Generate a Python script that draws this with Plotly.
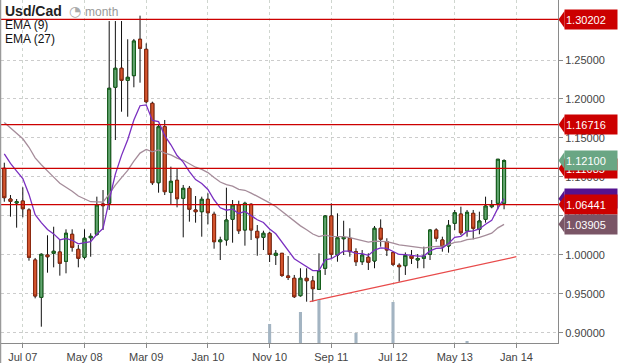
import plotly.graph_objects as go
import pandas as pd

# ---------------- data (monthly USD/CAD candles) ----------------
opens = [1.1110, 1.0716, 1.0665, 1.0690, 1.0575, 0.9933, 0.9454, 0.9997, 1.0019, 1.0036,
         0.9916, 1.0263, 1.0070, 0.9968, 1.0219, 1.0263, 1.0652, 1.0661, 1.2150, 1.2394,
         1.2239, 1.2299, 1.2766, 1.2637, 1.1944, 1.0925, 1.1644, 1.0802, 1.0956, 1.0725,
         1.0853, 1.0575, 1.0553, 1.0712, 1.0520, 1.0168, 1.0190, 1.0455, 1.0639, 1.0318,
         1.0648, 1.0301, 1.0224, 1.0276, 0.9993, 1.0019, 0.9728, 0.9698, 0.9475, 0.9698,
         0.9664, 0.9557, 0.9827, 1.0498, 0.9997, 1.0206, 1.0212, 1.0040, 0.9911, 0.9968,
         0.9920, 1.0340, 1.0168, 1.0027, 0.9865, 0.9860, 0.9984, 0.9933, 0.9955, 1.0006,
         1.0318, 1.0190, 1.0113, 1.0404, 1.0523, 1.0305, 1.0532, 1.0327, 1.0455, 1.0617,
         1.0661, 1.0661]
highs = [1.1182, 1.0767, 1.0716, 1.0866, 1.0597, 0.9959, 1.0019, 1.0250, 1.0360, 1.0190,
         1.0327, 1.0327, 1.0126, 1.0327, 1.0276, 1.0746, 1.0831, 1.3000, 1.3000, 1.3000,
         1.2766, 1.2770, 1.3069, 1.2714, 1.1965, 1.1666, 1.1730, 1.1131, 1.1110, 1.0896,
         1.0883, 1.0754, 1.0746, 1.0789, 1.0553, 1.0232, 1.0861, 1.0703, 1.0694, 1.0681,
         1.0661, 1.0382, 1.0309, 1.0296, 1.0061, 1.0019, 0.9984, 0.9741, 0.9827, 0.9827,
         0.9728, 1.0019, 1.0510, 1.0661, 1.0532, 1.0437, 1.0340, 1.0083, 1.0061, 1.0019,
         1.0369, 1.0455, 1.0212, 1.0040, 0.9891, 1.0030, 1.0061, 1.0010, 1.0104, 1.0327,
         1.0340, 1.0232, 1.0446, 1.0575, 1.0617, 1.0575, 1.0575, 1.0553, 1.0746, 1.0703,
         1.1226, 1.1226]
lows = [1.0681, 1.0489, 1.0348, 1.0481, 0.9924, 0.9441, 0.9077, 0.9770, 0.9839, 0.9732,
        0.9762, 1.0040, 0.9839, 0.9942, 0.9975, 1.0241, 1.0318, 1.0575, 1.1473, 1.1836,
        1.1772, 1.2150, 1.2209, 1.1944, 1.0896, 1.0797, 1.0767, 1.0652, 1.0609, 1.0224,
        1.0425, 1.0412, 1.0232, 1.0391, 1.0078, 0.9933, 1.0117, 1.0155, 1.0267, 1.0117,
        1.0190, 0.9988, 1.0061, 0.9907, 0.9869, 0.9715, 0.9676, 0.9445, 0.9462, 0.9398,
        0.9398, 0.9548, 0.9741, 0.9959, 0.9911, 0.9997, 0.9975, 0.9856, 0.9869, 0.9805,
        0.9827, 1.0104, 0.9984, 0.9856, 0.9655, 0.9741, 0.9882, 0.9827, 0.9827, 0.9933,
        1.0168, 1.0040, 1.0027, 1.0318, 1.0254, 1.0232, 1.0199, 1.0263, 1.0412, 1.0597,
        1.0584, 1.0584]
closes = [1.0733, 1.0686, 1.0681, 1.0591, 0.9968, 0.9471, 1.0006, 0.9975, 1.0045, 0.9891,
          1.0276, 1.0096, 0.9955, 1.0212, 1.0237, 1.0639, 1.0630, 1.2137, 1.2394, 1.2239,
          1.2278, 1.2744, 1.2650, 1.1965, 1.0925, 1.1644, 1.0810, 1.0943, 1.0720, 1.0853,
          1.0584, 1.0553, 1.0712, 1.0540, 1.0168, 1.0190, 1.0446, 1.0639, 1.0309, 1.0661,
          1.0318, 1.0219, 1.0276, 1.0004, 1.0019, 0.9734, 0.9708, 0.9462, 0.9698, 0.9667,
          0.9565, 0.9796, 1.0498, 1.0006, 1.0219, 1.0224, 1.0040, 0.9911, 0.9997, 0.9904,
          1.0340, 1.0199, 1.0061, 0.9878, 0.9847, 0.9991, 0.9952, 0.9952, 0.9984, 1.0318,
          1.0212, 1.0104, 1.0378, 1.0540, 1.0283, 1.0545, 1.0340, 1.0434, 1.0626, 1.0639,
          1.1226, 1.1210]
ema9 = [1.1294, 1.1172, 1.1074, 1.0978, 1.0775, 1.0514, 1.0412, 1.0325, 1.0268, 1.0192,
        1.0209, 1.0186, 1.0140, 1.0154, 1.0170, 1.0264, 1.0337, 1.0697, 1.1036, 1.1276,
        1.1476, 1.1730, 1.1913, 1.1924, 1.1725, 1.1709, 1.1530, 1.1412, 1.1274, 1.1190,
        1.1068, 1.0965, 1.0914, 1.0839, 1.0706, 1.0603, 1.0572, 1.0585, 1.0530, 1.0556,
        1.0508, 1.0450, 1.0414, 1.0332, 1.0269, 1.0163, 1.0072, 0.9950, 0.9898, 0.9852,
        0.9796, 0.9796, 0.9936, 0.9950, 1.0004, 1.0047, 1.0046, 1.0019, 1.0015, 0.9992,
        1.0061, 1.0088, 1.0083, 1.0042, 1.0004, 1.0001, 0.9991, 0.9983, 0.9983, 1.0050,
        1.0082, 1.0087, 1.0145, 1.0224, 1.0237, 1.0299, 1.0307, 1.0332, 1.0391, 1.0441,
        1.0598, 1.0720]
ema27 = [1.1698, 1.1626, 1.1558, 1.1489, 1.1380, 1.1244, 1.1155, 1.1070, 1.0997, 1.0917,
         1.0871, 1.0816, 1.0754, 1.0716, 1.0681, 1.0679, 1.0675, 1.0779, 1.0894, 1.0991,
         1.1083, 1.1201, 1.1305, 1.1353, 1.1322, 1.1345, 1.1306, 1.1281, 1.1241, 1.1213,
         1.1168, 1.1124, 1.1095, 1.1055, 1.0992, 1.0934, 1.0900, 1.0882, 1.0840, 1.0828,
         1.0792, 1.0751, 1.0717, 1.0666, 1.0620, 1.0557, 1.0497, 1.0422, 1.0371, 1.0321,
         1.0267, 1.0233, 1.0253, 1.0235, 1.0233, 1.0233, 1.0219, 1.0197, 1.0183, 1.0163,
         1.0176, 1.0177, 1.0169, 1.0149, 1.0127, 1.0117, 1.0105, 1.0093, 1.0086, 1.0102,
         1.0110, 1.0110, 1.0129, 1.0159, 1.0168, 1.0195, 1.0205, 1.0222, 1.0250, 1.0278,
         1.0346, 1.0391]

volume_idx = [43, 48, 51, 57, 63, 75]
volume_val = [19, 31, 43, 10, 41, 2]

trend_x = [49.5, 83]
trend_y = [0.9398, 0.9975]

levels = [1.30202, 1.16716, 1.11085, 1.06441]

tick_pos = [3, 13, 23, 33, 43, 53, 63, 73, 83]
tick_labels = ["Jul 07", "May 08", "Mar 09", "Jan 10", "Nov 10", "Sep 11", "Jul 12", "May 13", "Jan 14"]
price_ticks = [0.90, 0.95, 1.00, 1.05, 1.10, 1.15, 1.20, 1.25]

months = pd.date_range("2007-04-01", periods=len(opens), freq="MS").strftime("%b %Y").tolist()
x = list(range(len(opens)))

# ---------------- styling ----------------
W, H = 618, 363
ML, MR, MT, MB = 1, 60, 0, 20
PW, PH = W - ML - MR, H - MT - MB
Y0, Y1 = 0.88677, 1.32701
X0, X1 = -0.535, 89.74
FONT = "Liberation Sans"
RED = "#cc0000"
G_FILL, G_LINE = "#62a570", "#14601a"
R_FILL, R_LINE = "#d4552e", "#8e2a10"


def pxx(px):
    return (px - ML) / PW


def pxy(py):
    return 1 - (py - MT) / PH


fig = go.Figure()

# wicks (black)
fig.add_trace(go.Candlestick(
    x=x, open=opens, high=highs, low=lows, close=closes,
    increasing=dict(line=dict(color="#111111", width=1), fillcolor="#111111"),
    decreasing=dict(line=dict(color="#111111", width=1), fillcolor="#111111"),
    whiskerwidth=0, showlegend=False, hoverinfo="skip"))
# bodies
body_hi = [max(o, c) for o, c in zip(opens, closes)]
body_lo = [min(o, c) for o, c in zip(opens, closes)]
fig.add_trace(go.Candlestick(
    x=x, open=opens, high=body_hi, low=body_lo, close=closes, text=months,
    increasing=dict(line=dict(color=G_LINE, width=1), fillcolor=G_FILL),
    decreasing=dict(line=dict(color=R_LINE, width=1), fillcolor=R_FILL),
    whiskerwidth=0, showlegend=False))

fig.add_trace(go.Scatter(x=x, y=ema27, mode="lines", line=dict(color="#a58c9a", width=1.3),
                         name="EMA (27)", showlegend=False))
fig.add_trace(go.Scatter(x=x, y=ema9, mode="lines", line=dict(color="#7a2fc0", width=1.3),
                         name="EMA (9)", showlegend=False))
fig.add_trace(go.Scatter(x=trend_x, y=trend_y, mode="lines", line=dict(color="#e84a4a", width=1.3),
                         showlegend=False, hoverinfo="skip"))
fig.add_trace(go.Bar(x=volume_idx, y=volume_val, yaxis="y2", width=0.5,
                     marker=dict(color="#a3b4c2", line=dict(width=0)), showlegend=False))

shapes = []
for lv in levels:
    shapes.append(dict(type="line", xref="paper", yref="y", x0=0, x1=1, y0=lv, y1=lv,
                       line=dict(color=RED, width=1.3), layer="above"))
# left border
shapes.append(dict(type="line", xref="paper", yref="paper", x0=pxx(0.5), x1=pxx(0.5),
                   y0=pxy(H), y1=1, line=dict(color="#9a9a9a", width=1.5), layer="above"))

annotations = []
per_px = (Y1 - Y0) / PH
flags = [
    ("1.30202", 1.30202, RED),
    ("1.16716", 1.16716, RED),
    ("1.11085", 1.11085, RED),
    ("1.12100", 1.12100, "#6aa684"),
    ("", ema9[-1], "#55128f"),
    ("1.06441", 1.06441, RED),
    ("1.03905", 1.03905, "#7a5566"),
]
hh = 8.5 * per_px
for txt, val, col in flags:
    shapes.append(dict(type="path", xref="paper", yref="y",
                       path=f"M {pxx(558.5)},{val} L {pxx(564.5)},{val + hh} L {pxx(564.5)},{val - hh} Z",
                       fillcolor=col, line=dict(width=0), layer="above"))
    annotations.append(dict(xref="paper", yref="y", x=pxx(564), y=val, xanchor="left", yanchor="middle",
                            text=txt if txt else " ", showarrow=False, bgcolor=col, width=50, height=17,
                            align="left", borderpad=1,
                            font=dict(color="white", size=11, family=FONT)))

annotations += [
    dict(xref="paper", yref="paper", x=pxx(3), y=pxy(11), xanchor="left", yanchor="middle",
         text="<b>Usd/Cad</b>", showarrow=False, font=dict(size=14, color="#222222", family=FONT)),
    dict(xref="paper", yref="paper", x=pxx(67), y=pxy(11), xanchor="left", yanchor="middle",
         text="◔", showarrow=False, font=dict(size=14, color="#aaaaaa", family="DejaVu Sans")),
    dict(xref="paper", yref="paper", x=pxx(83), y=pxy(12), xanchor="left", yanchor="middle",
         text="month", showarrow=False, font=dict(size=12, color="#999999", family=FONT)),
    dict(xref="paper", yref="paper", x=pxx(3), y=pxy(25), xanchor="left", yanchor="middle",
         text="EMA (9)", showarrow=False, font=dict(size=12, color="#111111", family=FONT)),
    dict(xref="paper", yref="paper", x=pxx(3), y=pxy(39), xanchor="left", yanchor="middle",
         text="EMA (27)", showarrow=False, font=dict(size=12, color="#111111", family=FONT)),
]

fig.update_layout(
    width=W, height=H, margin=dict(l=ML, r=MR, t=MT, b=MB),
    paper_bgcolor="white", plot_bgcolor="white", showlegend=False,
    font=dict(family=FONT, size=11, color="#444444"),
    xaxis=dict(range=[X0, X1], tickmode="array", tickvals=tick_pos, ticktext=tick_labels,
               showgrid=True, gridcolor="#cfd6cf", griddash="dot", gridwidth=1,
               showline=True, linecolor="#8a8a8a", linewidth=1, ticks="outside", ticklen=4,
               tickcolor="#8a8a8a", tickfont=dict(size=11, color="#444444", family=FONT),
               zeroline=False, rangeslider=dict(visible=False), fixedrange=True),
    yaxis=dict(range=[Y0, Y1], side="right", tickmode="array", tickvals=price_ticks,
               tickformat=".5f", showgrid=True, gridcolor="#cccccc", griddash="dot", gridwidth=1,
               showline=True, linecolor="#8a8a8a", linewidth=1, ticks="outside", ticklen=4,
               tickcolor="#8a8a8a", tickfont=dict(size=11, color="#444444", family=FONT),
               zeroline=False),
    yaxis2=dict(range=[0, PH], overlaying="y", visible=False),
    shapes=shapes, annotations=annotations,
)

fig.write_html("out.html", config={"displayModeBar": False},
               post_script="document.body.style.margin='0px';document.body.style.overflow='hidden';")
